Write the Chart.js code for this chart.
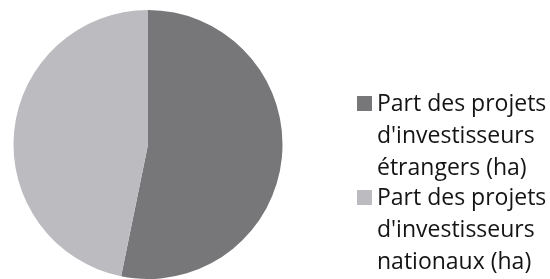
<!DOCTYPE html>
<html>
<head>
<meta charset="utf-8">
<script src="https://cdn.jsdelivr.net/npm/chart.js@4.4.0/dist/chart.umd.min.js"></script>
<style>
  html, body { margin: 0; padding: 0; background: #fff; }
  #wrap { width: 550px; height: 279px; position: relative; }
</style>
</head>
<body>
<div id="wrap"><canvas id="pieChart"></canvas></div>
<script>
// Catégories (une ligne par ligne de légende)
const labels = [
  ["Part des projets", "d'investisseurs", "étrangers (ha)"],
  ["Part des projets", "d'investisseurs", "nationaux (ha)"]
];
// Parts en %
const shares = [53.2, 46.8];
const sliceColors = ["#77777a", "#bcbcc0"];

// Légende dessinée à droite, lignes comme dans l'original
const sideLegend = {
  id: "sideLegend",
  afterDraw(chart) {
    const ctx = chart.ctx;
    const colors = chart.data.datasets[0].backgroundColor;
    const boxX = 357, textX = 377, box = 15;
    const firstBaseline = 111, lineStep = 32;
    ctx.save();
    ctx.font = "23px 'Open Sans'";
    ctx.textBaseline = "alphabetic";
    let y = firstBaseline;
    chart.data.labels.forEach((lines, i) => {
      ctx.fillStyle = colors[i];
      ctx.fillRect(boxX, y - box, box, box);
      ctx.fillStyle = "#141414";
      lines.forEach((line, k) => {
        ctx.fillText(line, textX, y + k * lineStep);
      });
      y += lines.length * lineStep - 2;
    });
    ctx.restore();
  }
};

new Chart(document.getElementById("pieChart"), {
  type: "pie",
  data: {
    labels: labels,
    datasets: [{
      data: shares,
      backgroundColor: sliceColors,
      borderWidth: 0
    }]
  },
  options: {
    responsive: true,
    maintainAspectRatio: false,
    animation: false,
    layout: { padding: { left: 12, top: 10, right: 266, bottom: -3 } },
    plugins: {
      legend: { display: false },
      tooltip: { enabled: false }
    }
  },
  plugins: [sideLegend]
});
</script>
</body>
</html>
